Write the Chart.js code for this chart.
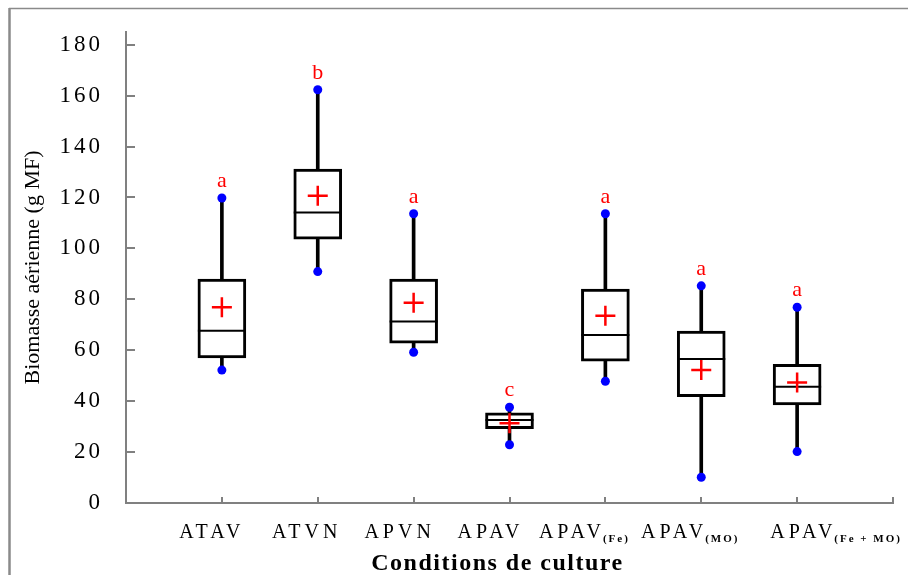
<!DOCTYPE html>
<html>
<head>
<meta charset="utf-8">
<script src="https://cdn.jsdelivr.net/npm/chart.js@4.4.0/dist/chart.umd.min.js"></script>
<style>
  html, body { margin: 0; padding: 0; background: #fff; }
  #wrap { width: 908px; height: 575px; }
</style>
</head>
<body>
<div id="wrap"><canvas id="chart" width="908" height="575"></canvas></div>
<script>
// values
const positions = [1, 2, 3, 4, 5, 6, 7];
const labelMain = ["ATAV", "ATVN", "APVN", "APAV", "APAV", "APAV", "APAV"];
const labelSub = ["", "", "", "", "(Fe)", "(MO)", "(Fe + MO)"];
const minVals = [52.2, 90.9, 59.2, 22.9, 47.8, 10.1, 20.2];
const q1Vals = [57.0, 103.6, 62.8, 29.2, 55.7, 41.8, 38.5];
const medianVals = [67.7, 114.1, 71.3, 32.6, 66.0, 56.6, 45.7];
const q3Vals = [88.0, 131.2, 88.0, 35.4, 84.0, 67.5, 54.5];
const maxVals = [119.8, 162.3, 113.6, 37.6, 113.6, 85.3, 76.9];
const meanVals = [76.9, 120.7, 78.7, 31.3, 73.5, 52.2, 47.3];
const letters = ["a", "b", "a", "c", "a", "a", "a"];
const yTicks = [0, 20, 40, 60, 80, 100, 120, 140, 160, 180];
const xTicks = [1, 2, 3, 4, 5, 6, 7, 8];

const serif = "'Liberation Serif', 'Times New Roman', serif";
// small pixel nudges of the category labels, as they sit in the figure
const labelNudge = [-10, -11, -14, -19, -20, -10, 40];

function pts(vals) {
  return vals.map((v, i) => ({ x: positions[i], y: v }));
}
function ranges(lo, hi) {
  return lo.map((v, i) => ({ x: positions[i], y: [v, hi[i]] }));
}

const decor = {
  id: "decor",
  beforeDraw(chart) {
    const ctx = chart.ctx;
    ctx.save();
    ctx.strokeStyle = "#8a8a8a";
    ctx.lineWidth = 2.5;
    ctx.beginPath(); ctx.moveTo(9.5, 8); ctx.lineTo(9.5, 575); ctx.stroke();
    ctx.lineWidth = 1.5;
    ctx.beginPath(); ctx.moveTo(9, 8.5); ctx.lineTo(908, 8.5); ctx.stroke();
    ctx.restore();
    ctx.letterSpacing = "3px"; // spaced digits on the y axis
  },
  beforeDatasetsDraw(chart) {
    chart.ctx.letterSpacing = "0px";
  },
  afterDraw(chart) {
    const { ctx, chartArea } = chart;
    const x = chart.scales.x, y = chart.scales.y;
    ctx.save();

    // significance letters
    ctx.fillStyle = "#ff0000";
    ctx.font = "22px " + serif;
    ctx.textAlign = "center";
    ctx.textBaseline = "alphabetic";
    letters.forEach((t, i) => {
      ctx.fillText(t, x.getPixelForValue(positions[i]), y.getPixelForValue(maxVals[i]) - 11);
    });

    // category labels with subscripts
    ctx.fillStyle = "#000";
    ctx.textAlign = "left";
    labelMain.forEach((m, i) => {
      ctx.font = "20px " + serif;
      ctx.letterSpacing = "4px";
      const wm = ctx.measureText(m).width;
      ctx.font = "bold 11px " + serif;
      ctx.letterSpacing = "2px";
      const ws = labelSub[i] ? ctx.measureText(labelSub[i]).width : 0;
      const x0 = x.getPixelForValue(positions[i]) + labelNudge[i] - (wm + ws) / 2;
      ctx.font = "20px " + serif;
      ctx.letterSpacing = "4px";
      ctx.fillText(m, x0, 538);
      if (labelSub[i]) {
        ctx.font = "bold 11px " + serif;
        ctx.letterSpacing = "2px";
        ctx.fillText(labelSub[i], x0 + wm - 2, 542);
      }
    });

    // axis titles
    ctx.font = "bold 24px " + serif;
    ctx.letterSpacing = "1.5px";
    ctx.textAlign = "center";
    ctx.fillText("Conditions de culture", (chartArea.left + chartArea.right) / 2 - 12, 570);

    ctx.letterSpacing = "0px";
    ctx.font = "22px " + serif;
    ctx.textBaseline = "middle";
    ctx.translate(33, (chartArea.top + chartArea.bottom) / 2);
    ctx.rotate(-Math.PI / 2);
    ctx.fillText("Biomasse aérienne (g MF)", 0, 0);
    ctx.restore();
  }
};

new Chart(document.getElementById("chart"), {
  data: {
    datasets: [
      {
        type: "bar", label: "whiskers", data: ranges(minVals, maxVals),
        backgroundColor: "#000", borderWidth: 0, barThickness: 3, grouped: false, order: 5
      },
      {
        type: "bar", label: "box", data: ranges(q1Vals, q3Vals),
        backgroundColor: "#fff", borderColor: "#000", borderWidth: 3, borderSkipped: false,
        barThickness: 48, grouped: false, order: 4
      },
      {
        type: "scatter", label: "median", data: pts(medianVals),
        pointStyle: "line", pointRadius: 24, borderColor: "#000", borderWidth: 2, order: 3
      },
      {
        type: "scatter", label: "extremes", data: pts(minVals).concat(pts(maxVals)),
        pointStyle: "circle", pointRadius: 4.5, backgroundColor: "#0000ff", borderWidth: 0, order: 2
      },
      {
        type: "scatter", label: "mean", data: pts(meanVals),
        pointStyle: "cross", pointRadius: 10, borderColor: "#ff0000", borderWidth: 2.5, order: 1
      }
    ]
  },
  options: {
    responsive: false,
    animation: false,
    events: [],
    layout: { autoPadding: false, padding: { left: 0, top: 32, right: 15, bottom: 0 } },
    plugins: { legend: { display: false }, tooltip: { enabled: false } },
    scales: {
      x: {
        type: "linear", min: 0, max: 8, offset: false,
        afterBuildTicks: s => { s.ticks = xTicks.map(v => ({ value: v })); },
        afterFit: s => {
          s.height = 72;
          s.paddingLeft = 0; s.paddingRight = 0; s.paddingTop = 0; s.paddingBottom = 0;
        },
        ticks: { display: false },
        grid: { drawOnChartArea: false, drawTicks: true, tickLength: -6, color: "#808080", lineWidth: 2, offset: false },
        border: { color: "#808080", width: 2 }
      },
      y: {
        type: "linear", min: 0, max: 185,
        afterBuildTicks: s => { s.ticks = yTicks.map(v => ({ value: v })); },
        afterFit: s => {
          s.width = 126;
          s.paddingLeft = 0; s.paddingRight = 0; s.paddingTop = 0; s.paddingBottom = 0;
        },
        ticks: { padding: 32, color: "#000", font: { family: serif, size: 23 } },
        grid: { drawOnChartArea: false, drawTicks: true, tickLength: -9, color: "#808080", lineWidth: 2 },
        border: { color: "#808080", width: 2 }
      }
    }
  },
  plugins: [decor]
});
</script>
</body>
</html>
